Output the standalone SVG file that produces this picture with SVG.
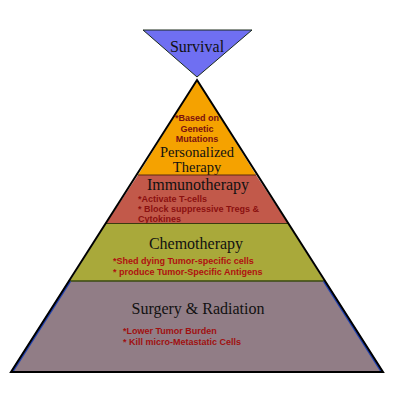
<svg xmlns="http://www.w3.org/2000/svg" width="400" height="397" viewBox="0 0 400 397">
<style>
.t{font-family:"Liberation Serif","Times New Roman",serif;fill:#111;text-anchor:middle}
.b{font-family:"Liberation Sans",Arial,sans-serif;font-weight:bold;font-size:9px}
.edge{fill:none;stroke:#000;stroke-width:2}
</style>
<rect width="400" height="397" fill="#fff"/>
<g id="survival">
<polygon points="143,30 252,30 197,77" fill="#6f6ff2" stroke="#1a2a1a" stroke-width="1"/>
<text class="t" x="197" y="52" font-size="16">Survival</text>
</g>
<g id="personalized">
<polygon points="197,80 138,175 256,175" fill="#f5a200"/>
<text class="b" x="197" y="121" text-anchor="middle" fill="#7a1010">*Based on</text>
<text class="b" x="197" y="131.5" text-anchor="middle" fill="#7a1010">Genetic</text>
<text class="b" x="197" y="142" text-anchor="middle" fill="#7a1010">Mutations</text>
<text class="t" x="197" y="156.5" font-size="14.5">Personalized</text>
<text class="t" x="197" y="172" font-size="14.5">Therapy</text>
</g>
<g id="immunotherapy">
<polygon points="138,175 256,175 288,223.5 106,223.5" fill="#c2594a"/>
<text class="t" x="198" y="189.5" font-size="16">Immunotherapy</text>
<text class="b" x="138" y="201.5" fill="#8b1010">*Activate T-cells</text>
<text class="b" x="138" y="211.5" fill="#8b1010">* Block suppressive Tregs &amp;</text>
<text class="b" x="138" y="221.5" fill="#8b1010">Cytokines</text>
</g>
<g id="chemotherapy">
<polygon points="106,223.5 288,223.5 324,281 70,281" fill="#a9a93a"/>
<text class="t" x="196" y="249" font-size="16">Chemotherapy</text>
<text class="b" x="113" y="263.5" fill="#b01010">*Shed dying Tumor-specific cells</text>
<text class="b" x="113" y="275" fill="#b01010">* produce Tumor-Specific Antigens</text>
</g>
<g id="surgery">
<polygon points="70,281 324,281 383,372 11,372" fill="#917d86"/>
<text class="t" x="198" y="314" font-size="16">Surgery &amp; Radiation</text>
<text class="b" x="123" y="334" fill="#a01010">*Lower Tumor Burden</text>
<text class="b" x="123" y="345" fill="#a01010">* Kill micro-Metastatic Cells</text>
</g>
<g id="connectors">
<line x1="138" y1="175" x2="256" y2="175" stroke="#5a2a10" stroke-width="1"/>
<line x1="106" y1="223.5" x2="288" y2="223.5" stroke="#3a3a10" stroke-width="1"/>
<line x1="70" y1="281" x2="324" y2="281" stroke="#3a4a10" stroke-width="1.5"/>
<line x1="70" y1="281" x2="12" y2="372" stroke="#2040b0" stroke-width="2.5"/>
<line x1="324" y1="281" x2="382" y2="372" stroke="#2040b0" stroke-width="2.5"/>
<polygon class="edge" points="197,80 383,372 11,372"/>
</g>
</svg>
